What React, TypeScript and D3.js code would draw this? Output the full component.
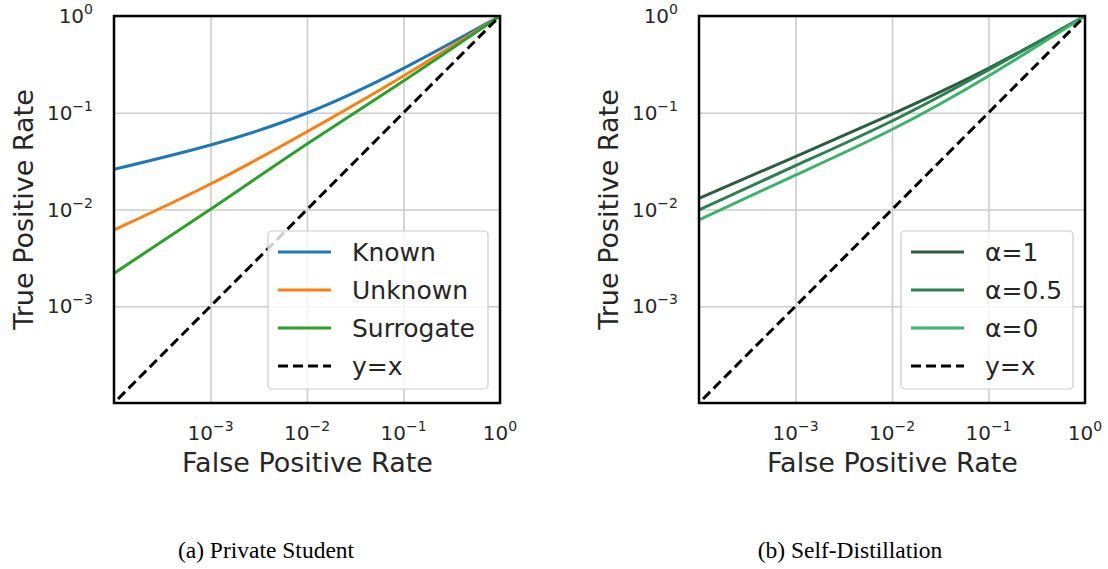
import { useEffect, useRef } from "react"
import * as d3 from "d3"

// false positive rate sample points (one per decade)
const fpr = [0.0001, 0.001, 0.01, 0.1, 1]

// (a) Private Student
const known = [0.026, 0.0464, 0.0994, 0.288, 1]
const unknown = [0.00615, 0.01835, 0.0637, 0.24, 1]
const surrogate = [0.00219, 0.01005, 0.0475, 0.213, 1]

// (b) Self-Distillation
const alpha1 = [0.01305, 0.0353, 0.097, 0.288, 1]
const alpha05 = [0.0099, 0.0284, 0.0822, 0.2767, 1]
const alpha0 = [0.0078, 0.0227, 0.0671, 0.24, 1]

const diagonal = [0.00011, 1]

const tickValues = [1e-3, 1e-2, 1e-1, 1]
const yTickValues = [1e-3, 1e-2, 1e-1, 1]
const tickExponents: Record<string, string> = { "0.001": "−3", "0.01": "−2", "0.1": "−1", "1": "0" }

type Series = { label: string; values: number[]; color: string; dashed?: boolean }

const panels: { left: number; caption: string; series: Series[]; legendLeft: number; legendWidth: number }[] = [
  {
    left: 114,
    caption: "(a) Private Student",
    legendLeft: 268,
    legendWidth: 220,
    series: [
      { label: "Known", values: known, color: "#1f77b4" },
      { label: "Unknown", values: unknown, color: "#ff7f0e" },
      { label: "Surrogate", values: surrogate, color: "#2ca02c" },
    ],
  },
  {
    left: 699,
    caption: "(b) Self-Distillation",
    legendLeft: 901,
    legendWidth: 172,
    series: [
      { label: "α=1", values: alpha1, color: "#2c5d40" },
      { label: "α=0.5", values: alpha05, color: "#2e7f51" },
      { label: "α=0", values: alpha0, color: "#3bb36b" },
    ],
  },
]

const FONT = "DejaVu Sans, sans-serif"

export default function App() {
  const svgRef = useRef<SVGSVGElement | null>(null)

  useEffect(() => {
    if (!svgRef.current) return
    const svg = d3.select(svgRef.current)
    svg.selectAll("*").remove()

    const top = 16
    const size = 387
    const bottom = top + size

    panels.forEach((panel, pi) => {
      const x = d3.scaleLog().domain([1e-4, 1]).range([panel.left, panel.left + size - 1])
      const y = d3.scaleLog().domain([1e-4, 1]).range([bottom, top])
      const g = svg.append("g")

      const clipId = `clip-${pi}`
      g.append("clipPath")
        .attr("id", clipId)
        .append("rect")
        .attr("x", panel.left)
        .attr("y", top)
        .attr("width", size - 1)
        .attr("height", size)

      // grid
      g.append("g")
        .attr("transform", `translate(0, ${bottom})`)
        .call(d3.axisBottom(x).tickValues(tickValues).tickSize(-size).tickFormat(() => ""))
        .call((a) => a.select(".domain").remove())
        .call((a) => a.selectAll("line").attr("stroke", "#cccccc").attr("stroke-width", 1.6))

      g.append("g")
        .attr("transform", `translate(${panel.left}, 0)`)
        .call(d3.axisLeft(y).tickValues(yTickValues).tickSize(-size).tickFormat(() => ""))
        .call((a) => a.select(".domain").remove())
        .call((a) => a.selectAll("line").attr("stroke", "#cccccc").attr("stroke-width", 1.6))

      const line = d3
        .line<number>()
        .x((_, i) => x(fpr[i]))
        .y((d) => y(d))
        .curve(d3.curveNatural)

      const plot = g.append("g").attr("clip-path", `url(#${clipId})`)
      panel.series.forEach((s) => {
        plot
          .append("path")
          .attr("d", line(s.values))
          .attr("fill", "none")
          .attr("stroke", s.color)
          .attr("stroke-width", 3)
      })
      plot
        .append("path")
        .attr("d", d3.line<number>().x((d) => x(d)).y((d) => y(d))(diagonal))
        .attr("fill", "none")
        .attr("stroke", "#000")
        .attr("stroke-width", 3)
        .attr("stroke-dasharray", "10,5")

      // tick labels
      const tickLabel = (sel: d3.Selection<SVGTextElement, number, SVGGElement, unknown>) => {
        sel.each(function (d) {
          const t = d3.select(this)
          t.append("tspan").text("10")
          t.append("tspan").attr("dy", -9).attr("font-size", 14).text(tickExponents[String(d)])
        })
      }

      g.append("g")
        .selectAll("text")
        .data(tickValues)
        .join("text")
        .attr("x", (d) => x(d))
        .attr("y", bottom + 37)
        .attr("text-anchor", "middle")
        .attr("font-family", FONT)
        .attr("font-size", 20)
        .attr("fill", "#262626")
        .call(tickLabel)

      g.append("g")
        .selectAll("text")
        .data(yTickValues)
        .join("text")
        .attr("x", panel.left - 21)
        .attr("y", (d) => y(d) + 7)
        .attr("text-anchor", "end")
        .attr("font-family", FONT)
        .attr("font-size", 20)
        .attr("fill", "#262626")
        .call(tickLabel)

      // axis labels
      g.append("text")
        .attr("x", panel.left + size / 2)
        .attr("y", 472)
        .attr("text-anchor", "middle")
        .attr("font-family", FONT)
        .attr("font-size", 27)
        .attr("fill", "#262626")
        .text("False Positive Rate")

      g.append("text")
        .attr("transform", `translate(${panel.left - 81}, ${top + size / 2}) rotate(-90)`)
        .attr("text-anchor", "middle")
        .attr("font-family", FONT)
        .attr("font-size", 27)
        .attr("fill", "#262626")
        .text("True Positive Rate")

      // legend
      const legend = g.append("g")
      legend
        .append("rect")
        .attr("x", panel.legendLeft)
        .attr("y", 231)
        .attr("width", panel.legendWidth)
        .attr("height", 158)
        .attr("rx", 4)
        .attr("fill", "#ffffff")
        .attr("fill-opacity", 0.8)
        .attr("stroke", "#cccccc")
        .attr("stroke-width", 1.2)

      const entries: Series[] = [...panel.series, { label: "y=x", values: [], color: "#000", dashed: true }]
      entries.forEach((e, i) => {
        const ly = 252 + i * 38
        legend
          .append("line")
          .attr("x1", panel.legendLeft + 10)
          .attr("x2", panel.legendLeft + 63)
          .attr("y1", ly)
          .attr("y2", ly)
          .attr("stroke", e.color)
          .attr("stroke-width", 3)
          .attr("stroke-dasharray", e.dashed ? "10,5" : null)
        legend
          .append("text")
          .attr("x", panel.legendLeft + 84)
          .attr("y", ly + 9)
          .attr("font-family", FONT)
          .attr("font-size", 25)
          .attr("fill", "#262626")
          .text(e.label)
      })

      // spines
      g.append("rect")
        .attr("x", panel.left)
        .attr("y", top)
        .attr("width", size - 1)
        .attr("height", size)
        .attr("fill", "none")
        .attr("stroke", "#000")
        .attr("stroke-width", 2.5)

      // caption
      svg
        .append("text")
        .attr("x", pi === 0 ? 266 : 850)
        .attr("y", 558)
        .attr("text-anchor", "middle")
        .attr("font-family", "Liberation Serif, serif")
        .attr("font-size", 23.5)
        .attr("fill", "#000")
        .text(panel.caption)
    })
  }, [])

  return (
    <svg
      ref={svgRef}
      width={1108}
      height={569}
      style={{ position: "absolute", left: 0, top: 0, background: "#ffffff" }}
    />
  )
}
